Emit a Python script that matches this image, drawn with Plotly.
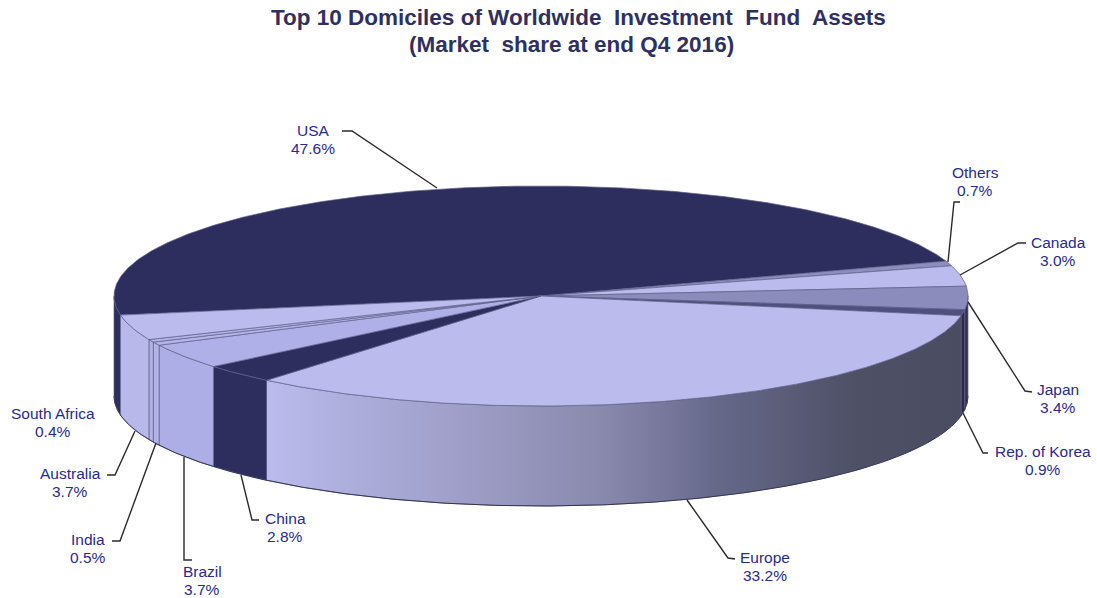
import numpy as np
import plotly.graph_objects as go

categories = ["USA", "Others", "Canada", "Japan", "Rep. of Korea", "Europe",
              "China", "Brazil", "India", "South Africa", "Australia"]
shares = [47.6, 0.7, 3.0, 3.4, 0.9, 33.2, 2.8, 3.7, 0.5, 0.4, 3.7]

top_colors = ["#2D2D5E", "#8E8EBE", "#BBBBEE", "#8C8CBC", "#50507F", "#BBBBEE",
              "#2D2D5E", "#B0B0E8", "#B4B4EA", "#B4B4EA", "#BBBBEE"]
side_colors = ["#2D2D5E", "#2D2D5E", "#2D2D5E", "#33334F", "#2C2C48", None,
               "#2D2D5E", "#AEAEE6", "#B2B2E6", "#B2B2E6", "#B8B8EA"]
europe_gradient = [[0.0, "#BBBBEE"], [0.08, "#B2B2E2"], [0.48, "#8A8AAE"],
                   [0.65, "#66688A"], [0.85, "#4E5066"], [1.0, "#4A4C62"]]

CX, CY, RX, RY, DEPTH, START = 541, 296, 427, 110, 100, 170.0

leaders = {
    "USA": [(437, 188), (352, 131), (342, 131)],
    "Others": [(948, 262), (954, 202), (960, 202)],
    "Canada": [(960, 275), (1018, 243), (1026, 243)],
    "Japan": [(968, 302), (1025, 391), (1032, 392)],
    "Rep. of Korea": [(963, 413), (983, 453), (988, 453)],
    "Europe": [(687, 500), (728, 558), (735, 559)],
    "China": [(241, 475), (252, 520), (259, 520)],
    "Brazil": [(184, 457), (184, 560), (192, 560)],
    "India": [(156, 443), (120, 541), (112, 541)],
    "South Africa": [(135, 431), (115, 475), (107, 475)],
}
labels = {
    "USA": (313, 139, "USA", "47.6%"),
    "Others": (975, 181, "Others", "0.7%"),
    "Canada": (1058, 251, "Canada", "3.0%"),
    "Japan": (1058, 398, "Japan", "3.4%"),
    "Rep. of Korea": (1043, 460, "Rep. of Korea", "0.9%"),
    "Europe": (765, 566, "Europe", "33.2%"),
    "China": (285, 527, "China", "2.8%"),
    "Brazil": (202, 580, "Brazil", "3.7%"),
    "India": (88, 548, "India", "0.5%"),
    "Australia": (70, 482, "Australia", "3.7%"),
    "South Africa": (53, 422, "South Africa", "0.4%"),
}
title_lines = [(578, 17, "Top 10 Domiciles of Worldwide\u00a0 Investment\u00a0 Fund\u00a0 Assets"),
               (571, 44, "(Market\u00a0 share at end Q4 2016)")]


def arc(t0, t1, dy=0.0):
    t = np.radians(np.linspace(t0, t1, max(int(abs(t1 - t0) * 2), 2)))
    return CX + RX * np.cos(t), CY + dy + RY * np.sin(t)


total = sum(shares)
spans = []
a = START
for v in shares:
    b = a + 360 * v / total
    spans.append((a, b))
    a = b

fig = go.Figure()

for k, (a, b) in enumerate(spans):
    for lo, hi in ((a, b), (a - 360, b - 360)):
        s0, s1 = max(lo, 0), min(hi, 180)
        if s1 <= s0:
            continue
        xt, yt = arc(s0, s1)
        xb, yb = arc(s1, s0, DEPTH)
        x = np.r_[xt, xb, xt[0]]
        y = np.r_[yt, yb, yt[0]]
        kw = dict(fillcolor=side_colors[k]) if side_colors[k] else dict(
            fillgradient=dict(type="horizontal", colorscale=europe_gradient))
        fig.add_trace(go.Scatter(x=x, y=y, mode="lines", fill="toself",
                                 line=dict(width=0.7, color="#5E5E88"),
                                 hoverinfo="skip", showlegend=False, **kw))

xb, yb = arc(0, 180, DEPTH)
fig.add_trace(go.Scatter(x=xb, y=yb, mode="lines", line=dict(width=1, color="#35355A"),
                         hoverinfo="skip", showlegend=False))

for k, (a, b) in enumerate(spans):
    xt, yt = arc(a, b)
    fig.add_trace(go.Scatter(x=np.r_[CX, xt, CX], y=np.r_[CY, yt, CY], mode="lines",
                             fill="toself", fillcolor=top_colors[k],
                             line=dict(width=0.7, color="#5E5E88"),
                             name=categories[k], hoverinfo="name", showlegend=False))

for name, pts in leaders.items():
    fig.add_trace(go.Scatter(x=[p[0] for p in pts], y=[p[1] for p in pts], mode="lines",
                             line=dict(width=1.4, color="#2B2B2B"),
                             hoverinfo="skip", showlegend=False))

annotations = []
for x, y, name, pct in labels.values():
    for yy, t in ((y - 9, name), (y + 9, pct)):
        annotations.append(dict(x=x, y=yy, text=t, xref="x", yref="y", showarrow=False,
                                xanchor="center", yanchor="middle",
                                font=dict(family="Liberation Sans", size=15.5, color="#2A2A8E")))
for x, y, t in title_lines:
    annotations.append(dict(x=x, y=y, xref="x", yref="y", showarrow=False,
                            xanchor="center", yanchor="middle", text=f"<b>{t}</b>",
                            font=dict(family="Liberation Sans", size=22.5, color="#30305F")))

fig.update_layout(
    width=1097, height=598, margin=dict(l=0, r=0, t=0, b=0),
    paper_bgcolor="white", plot_bgcolor="white", annotations=annotations,
    xaxis=dict(range=[0, 1097], visible=False, fixedrange=True),
    yaxis=dict(range=[598, 0], visible=False, fixedrange=True),
)
fig.write_html("out.html", config=dict(displayModeBar=False),
               post_script="document.body.style.margin='0';document.documentElement.style.overflow='hidden';")
